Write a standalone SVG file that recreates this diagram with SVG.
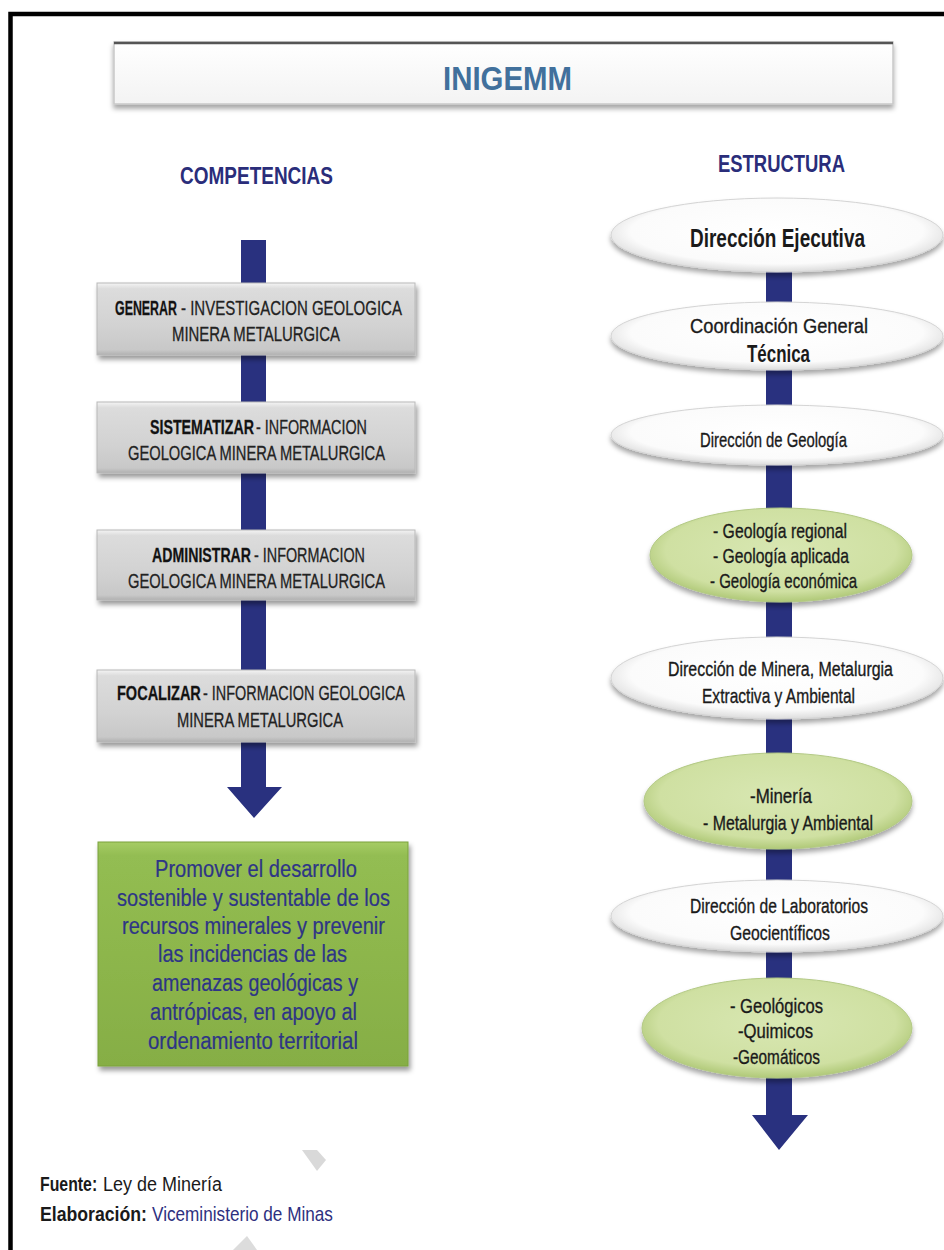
<svg xmlns="http://www.w3.org/2000/svg" width="944" height="1250" viewBox="0 0 944 1250">
<style>
text{font-family:"Liberation Sans",Arial,sans-serif;}
.bx{fill:url(#greyG);stroke:#b8b8b8;stroke-width:1;filter:url(#sh);}
.bt{font-size:21px;fill:#222;stroke:#222;stroke-width:0.3;}
.b{font-weight:bold;fill:#111;}
.gt{font-size:23px;fill:#2e3586;stroke:#2e3586;stroke-width:0.2;}
.ew{fill:url(#whiteG);stroke:#d4d4d4;stroke-width:1;filter:url(#sh2);}
.eg{fill:url(#greenG);stroke:#b3c985;stroke-width:1;filter:url(#sh2);}
.et{font-size:21px;fill:#1a1a1a;stroke:#1a1a1a;stroke-width:0.35;}
.hd{font-size:24px;font-weight:bold;fill:#2a2d7a;}
.ft{font-size:21px;fill:#1a1a1a;}
.bar{fill:#29317f;}
</style>
<defs>
<filter id="sh" x="-10%" y="-20%" width="120%" height="150%">
<feDropShadow dx="2" dy="4" stdDeviation="2.5" flood-color="#000" flood-opacity="0.4"/>
</filter>
<filter id="sh2" x="-10%" y="-20%" width="120%" height="150%">
<feDropShadow dx="0" dy="4" stdDeviation="2.5" flood-color="#000" flood-opacity="0.35"/>
</filter>
<linearGradient id="greyG" x1="0" y1="0" x2="0" y2="1">
<stop offset="0" stop-color="#f4f4f4"/>
<stop offset="0.08" stop-color="#dcdcdc"/>
<stop offset="0.6" stop-color="#d2d2d2"/>
<stop offset="0.93" stop-color="#c8c8c8"/>
<stop offset="1" stop-color="#b0b0b0"/>
</linearGradient>
<linearGradient id="greenBox" x1="0" y1="0" x2="0" y2="1">
<stop offset="0" stop-color="#a6cc66"/>
<stop offset="0.06" stop-color="#93bd52"/>
<stop offset="1" stop-color="#86ae45"/>
</linearGradient>
<linearGradient id="titleG" x1="0" y1="0" x2="0" y2="1">
<stop offset="0" stop-color="#ffffff"/>
<stop offset="1" stop-color="#f3f3f3"/>
</linearGradient>
<radialGradient id="whiteG" cx="0.5" cy="0.45" r="0.55">
<stop offset="0" stop-color="#ffffff"/>
<stop offset="0.8" stop-color="#fbfbfb"/>
<stop offset="1" stop-color="#dcdcdc"/>
</radialGradient>
<radialGradient id="greenG" cx="0.5" cy="0.45" r="0.55">
<stop offset="0" stop-color="#d8e7b2"/>
<stop offset="0.8" stop-color="#cfe0a2"/>
<stop offset="1" stop-color="#b0c978"/>
</radialGradient>
</defs>
<rect width="944" height="1250" fill="#ffffff"/>
<path d="M10.5 1250 V14 H944" fill="none" stroke="#000" stroke-width="4.5"/>
<polygon points="302,1150 317,1150 326,1160 317,1171" fill="#d9d9d9"/>
<polygon points="233,1250 247,1236 257,1250" fill="#dcdcdc"/>

<g id="title">
<rect x="114" y="42" width="779" height="62" fill="url(#titleG)" stroke="#c8c8c8" stroke-width="1.5" filter="url(#sh2)"/>
<line x1="114" y1="43" x2="893" y2="43" stroke="#555" stroke-width="2.5"/>
<text x="443" y="90" font-size="34" font-weight="bold" fill="#41709c" textLength="129" lengthAdjust="spacingAndGlyphs">INIGEMM</text>
</g>
<g id="headings">
<text class="hd" x="180" y="184" textLength="153" lengthAdjust="spacingAndGlyphs">COMPETENCIAS</text>
<text class="hd" x="718" y="172" textLength="127" lengthAdjust="spacingAndGlyphs">ESTRUCTURA</text>
</g>

<g id="connectors">
<path class="bar" d="M241 240 H266 V787 H282 L254 818 L227 787 H241 Z"/>
<path class="bar" d="M766 265 H792 V1115 H808 L779 1150 L752 1115 H766 Z"/>
</g>

<g id="comp-generar">
<rect class="bx" x="97" y="283" width="318" height="72"/>
<text class="bt b" transform="translate(115 315) scale(0.59 1)" textLength="105" lengthAdjust="spacingAndGlyphs">GENERAR</text>
<text class="bt" transform="translate(181 315) scale(0.715 1)" textLength="309" lengthAdjust="spacingAndGlyphs">- INVESTIGACION GEOLOGICA</text>
<text class="bt" x="172" y="341" textLength="168" lengthAdjust="spacingAndGlyphs">MINERA METALURGICA</text>
</g>
<g id="comp-sistematizar">
<rect class="bx" x="97" y="402" width="318" height="71"/>
<text class="bt b" transform="translate(150 434) scale(0.671 1)" textLength="155" lengthAdjust="spacingAndGlyphs">SISTEMATIZAR</text>
<text class="bt" transform="translate(256 434) scale(0.685 1)" textLength="162" lengthAdjust="spacingAndGlyphs">- INFORMACION</text>
<text class="bt" x="128" y="460" textLength="257" lengthAdjust="spacingAndGlyphs">GEOLOGICA MINERA METALURGICA</text>
</g>
<g id="comp-administrar">
<rect class="bx" x="97" y="530" width="318" height="70"/>
<text class="bt b" transform="translate(152 562) scale(0.656 1)" textLength="151" lengthAdjust="spacingAndGlyphs">ADMINISTRAR</text>
<text class="bt" transform="translate(254 562) scale(0.685 1)" textLength="162" lengthAdjust="spacingAndGlyphs">- INFORMACION</text>
<text class="bt" x="128" y="588" textLength="257" lengthAdjust="spacingAndGlyphs">GEOLOGICA MINERA METALURGICA</text>
</g>
<g id="comp-focalizar">
<rect class="bx" x="97" y="670" width="318" height="72"/>
<text class="bt b" transform="translate(117 700) scale(0.693 1)" textLength="121" lengthAdjust="spacingAndGlyphs">FOCALIZAR</text>
<text class="bt" transform="translate(203 700) scale(0.687 1)" textLength="294" lengthAdjust="spacingAndGlyphs">- INFORMACION GEOLOGICA</text>
<text class="bt" x="177" y="727" textLength="166" lengthAdjust="spacingAndGlyphs">MINERA METALURGICA</text>
</g>
<g id="objetivo">
<rect x="98" y="842" width="310" height="224" fill="url(#greenBox)" stroke="#7aa23c" stroke-width="1" filter="url(#sh)"/>
<text class="gt" x="155" y="877" textLength="202" lengthAdjust="spacingAndGlyphs">Promover el desarrollo</text>
<text class="gt" x="117" y="906" textLength="273" lengthAdjust="spacingAndGlyphs">sostenible y sustentable de los</text>
<text class="gt" x="122" y="934" textLength="263" lengthAdjust="spacingAndGlyphs">recursos minerales y prevenir</text>
<text class="gt" x="158" y="962" textLength="189" lengthAdjust="spacingAndGlyphs">las incidencias de las</text>
<text class="gt" x="152" y="991" textLength="206" lengthAdjust="spacingAndGlyphs">amenazas geológicas y</text>
<text class="gt" x="150" y="1020" textLength="207" lengthAdjust="spacingAndGlyphs">antrópicas, en apoyo al</text>
<text class="gt" x="148" y="1049" textLength="210" lengthAdjust="spacingAndGlyphs">ordenamiento territorial</text>
</g>

<g id="dir-ejecutiva">
<ellipse class="ew" cx="777" cy="235" rx="166" ry="37"/>
<text x="690" y="247" font-size="26" font-weight="bold" fill="#1a1a1a" textLength="175" lengthAdjust="spacingAndGlyphs">Dirección Ejecutiva</text>
</g>
<g id="coord-general">
<ellipse class="ew" cx="777" cy="336" rx="166" ry="34"/>
<text class="et" x="690" y="333" textLength="178" lengthAdjust="spacingAndGlyphs">Coordinación General</text>
<text x="747" y="362" font-size="23" font-weight="bold" fill="#1a1a1a" textLength="63" lengthAdjust="spacingAndGlyphs">Técnica</text>
</g>
<g id="dir-geologia">
<ellipse class="ew" cx="777" cy="435" rx="166" ry="30"/>
<text class="et" x="700" y="447" font-size="20" textLength="147" lengthAdjust="spacingAndGlyphs">Dirección de Geología</text>
</g>
<g id="geologia-areas">
<ellipse class="eg" cx="781" cy="555" rx="131" ry="47"/>
<text class="et" x="713" y="538" font-size="20" textLength="134" lengthAdjust="spacingAndGlyphs">- Geología regional</text>
<text class="et" x="713" y="563" font-size="20" textLength="136" lengthAdjust="spacingAndGlyphs">- Geología aplicada</text>
<text class="et" x="710" y="588" font-size="20" textLength="147" lengthAdjust="spacingAndGlyphs">- Geología económica</text>
</g>
<g id="dir-minera">
<ellipse class="ew" cx="777" cy="678" rx="166" ry="41"/>
<text class="et" transform="translate(668 676) scale(0.76 1)" textLength="296" lengthAdjust="spacingAndGlyphs">Dirección de Minera, Metalurgia</text>
<text class="et" x="702" y="703" textLength="153" lengthAdjust="spacingAndGlyphs">Extractiva y Ambiental</text>
</g>
<g id="minera-areas">
<ellipse class="eg" cx="778" cy="801" rx="134" ry="48"/>
<text class="et" x="750" y="803" textLength="62" lengthAdjust="spacingAndGlyphs">-Minería</text>
<text class="et" x="703" y="830" textLength="170" lengthAdjust="spacingAndGlyphs">- Metalurgia y Ambiental</text>
</g>
<g id="dir-laboratorios">
<ellipse class="ew" cx="777" cy="916" rx="166" ry="36"/>
<text class="et" x="690" y="913" textLength="178" lengthAdjust="spacingAndGlyphs">Dirección de Laboratorios</text>
<text class="et" x="730" y="940" textLength="100" lengthAdjust="spacingAndGlyphs">Geocientíficos</text>
</g>
<g id="laboratorios-areas">
<ellipse class="eg" cx="777" cy="1028" rx="135" ry="50"/>
<text class="et" x="730" y="1013" textLength="93" lengthAdjust="spacingAndGlyphs">- Geológicos</text>
<text class="et" x="738" y="1038" textLength="75" lengthAdjust="spacingAndGlyphs">-Quimicos</text>
<text class="et" x="733" y="1064" textLength="87" lengthAdjust="spacingAndGlyphs">-Geomáticos</text>
</g>

<g id="footer">
<text class="ft" font-weight="bold" transform="translate(40 1191) scale(0.752 1)" textLength="76" lengthAdjust="spacingAndGlyphs">Fuente:</text>
<text class="ft" transform="translate(103 1191) scale(0.856 1)" textLength="139" lengthAdjust="spacingAndGlyphs">Ley de Minería</text>
<text class="ft" font-weight="bold" transform="translate(40 1221) scale(0.842 1)" textLength="127" lengthAdjust="spacingAndGlyphs">Elaboración:</text>
<text class="ft" fill="#2e3080" style="fill:#2e3080" transform="translate(152 1221) scale(0.815 1)" textLength="222" lengthAdjust="spacingAndGlyphs">Viceministerio de Minas</text>
</g>
</svg>
